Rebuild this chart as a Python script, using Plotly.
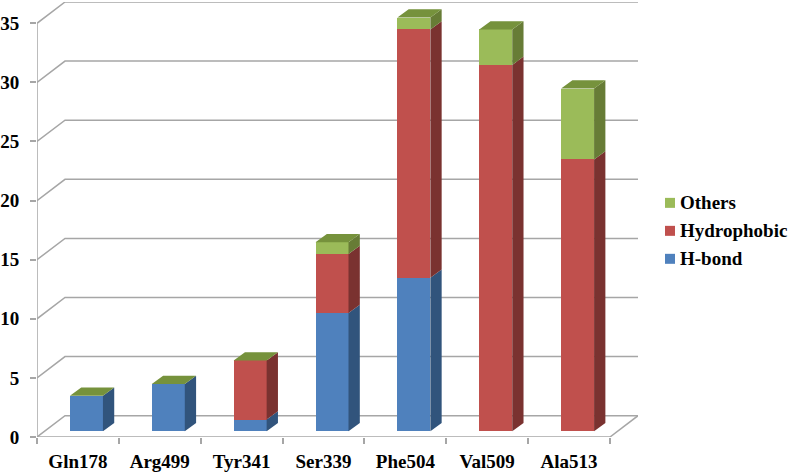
import plotly.graph_objects as go

categories = ["Gln178", "Arg499", "Tyr341", "Ser339", "Phe504", "Val509", "Ala513"]
h_bond = [3, 4, 1, 10, 13, 0, 0]
hydrophobic = [0, 0, 5, 5, 21, 31, 23]
others = [0, 0, 0, 1, 1, 3, 6]
y_ticks = [0, 5, 10, 15, 20, 25, 30, 35]

series = [
    ("H-bond", h_bond, "#4F81BD", "#31547C"),
    ("Hydrophobic", hydrophobic, "#C0504D", "#7A3230"),
    ("Others", others, "#9BBB59", "#677C36"),
]
TOP_COLOR = "#76923C"
GRID = "#A6A6A6"
FONT = "Liberation Serif"

# pseudo-3D projection, in axis units
L, R, T, B = 37, 152, 2, 35.7
WALL_DX, WALL_DY = 0.342, 1.80
BAR_DX, BAR_DY = 0.138, 0.70
BAR_X, BAR_Y = 0.104, 0.48
BAR_W = 0.403
xr = [-0.5, len(categories) - 0.5 + WALL_DX]
yr = [0, y_ticks[-1] + WALL_DY]
PW, PH = 790 - L - R, 473 - T - B


def px(x):
    return (x - L) / PW


def py(y):
    return (473 - B - y) / PH


fig = go.Figure()

# back wall and floor, on the base axes
wx, wy = [], []
x0, x1 = xr[0], len(categories) - 0.5
for v in y_ticks:
    wx += [x0, x0 + WALL_DX, x1 + WALL_DX, None]
    wy += [v, v + WALL_DY, v + WALL_DY, None]
wx += [x1, x1 + WALL_DX, None, x0, x1, None, x0, x0]
wy += [0, WALL_DY, None, 0, 0, None, 0, y_ticks[-1]]
fig.add_trace(go.Scatter(x=wx, y=wy, mode="lines", line=dict(color=GRID, width=1.5),
                         showlegend=False, hoverinfo="skip", cliponaxis=False))

# bars, on an overlaying pair of axes so they sit above the wall
xc = [i + BAR_X for i in range(len(categories))]
bottom = [BAR_Y] * len(categories)
for name, vals, face, side in series:
    fig.add_trace(go.Bar(x=xc, y=vals, base=list(bottom), width=BAR_W, name=name,
                         marker=dict(color=face, line=dict(width=0)), showlegend=False,
                         xaxis="x2", yaxis="y2",
                         customdata=categories,
                         hovertemplate="%{customdata}: %{y}<extra>" + name + "</extra>"))
    sx, sy = [], []
    for c, b, v in zip(xc, bottom, vals):
        if v == 0:
            continue
        e = c + BAR_W / 2
        sx += [e, e + BAR_DX, e + BAR_DX, e, e, None]
        sy += [b, b + BAR_DY, b + v + BAR_DY, b + v, b, None]
    fig.add_trace(go.Scatter(x=sx, y=sy, mode="lines", fill="toself", fillcolor=side,
                             line=dict(width=0, color=side), showlegend=False,
                             hoverinfo="skip", xaxis="x2", yaxis="y2"))
    bottom = [b + v for b, v in zip(bottom, vals)]

tx, ty = [], []
for c, t in zip(xc, bottom):
    l, r = c - BAR_W / 2, c + BAR_W / 2
    tx += [l, r, r + BAR_DX, l + BAR_DX, l, None]
    ty += [t, t, t + BAR_DY, t + BAR_DY, t, None]
fig.add_trace(go.Scatter(x=tx, y=ty, mode="lines", fill="toself", fillcolor=TOP_COLOR,
                         line=dict(width=0, color=TOP_COLOR), showlegend=False,
                         hoverinfo="skip", xaxis="x2", yaxis="y2"))

# legend entries
shapes, annotations = [], []
for (name, _, face, _), yp in zip(reversed(series), [203, 231, 259]):
    shapes.append(dict(type="rect", xref="paper", yref="paper", line=dict(width=0),
                       fillcolor=face, x0=px(665), x1=px(675), y0=py(yp + 5), y1=py(yp - 5)))
    annotations.append(dict(text=name, xref="paper", yref="paper", x=px(678), y=py(yp),
                            xanchor="left", yanchor="middle", showarrow=False,
                            font=dict(family=FONT, size=19, color="#000000", weight="bold")))

fig.update_layout(
    width=790, height=473, autosize=False, showlegend=False,
    margin=dict(l=L, r=R, t=T, b=B, pad=0),
    paper_bgcolor="#FFFFFF", plot_bgcolor="#FFFFFF",
    barmode="overlay", bargap=0,
    font=dict(family=FONT, size=19, color="#000000", weight="bold"),
    shapes=shapes, annotations=annotations,
    xaxis=dict(range=xr, showgrid=False, zeroline=False, showline=False, automargin=False,
               tickmode="array", tickvals=list(range(len(categories))), ticktext=categories,
               ticks="", ticklabelstandoff=11,
               minor=dict(tickmode="array", ticks="outside", ticklen=6, tickwidth=1.5,
                          tickcolor=GRID,
                          tickvals=[i - 0.5 for i in range(len(categories) + 1)])),
    yaxis=dict(range=yr, showgrid=False, zeroline=False, showline=False, automargin=False,
               tickmode="array", tickvals=y_ticks, ticks="outside", ticklen=6, tickwidth=1.5,
               tickcolor=GRID, ticklabelstandoff=7),
    xaxis2=dict(range=xr, overlaying="x", visible=False, automargin=False),
    yaxis2=dict(range=yr, overlaying="y", visible=False, automargin=False),
)
fig.write_html("out.html", config={"displayModeBar": False},
               post_script="document.body.style.margin='0';document.body.style.overflow='hidden';")
